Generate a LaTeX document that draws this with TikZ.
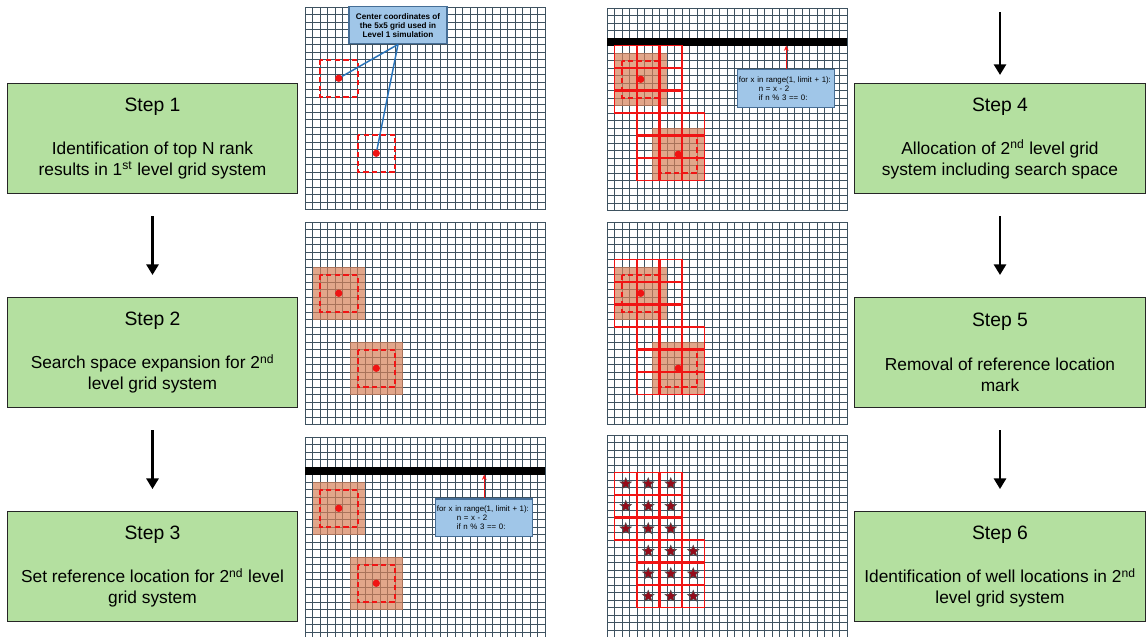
\documentclass[tikz,border=0pt]{standalone}
\usepackage{fontspec}
\setmainfont{Liberation Sans}
\usetikzlibrary{arrows.meta, positioning, shapes.geometric}
\definecolor{stepgreen}{RGB}{180,224,160}
\definecolor{gridslate}{RGB}{62,82,96}
\definecolor{zoneorange}{RGB}{214,128,88}
\definecolor{noteblue}{RGB}{160,198,232}
\definecolor{noteedge}{RGB}{70,110,150}
\definecolor{pointerblue}{RGB}{40,115,185}
\definecolor{markred}{RGB}{240,20,20}
\definecolor{wellred}{RGB}{150,10,25}

\newcommand{\stephead}[1]{{\fontsize{14.5}{15.75}\selectfont #1}\\[17pt]}
\newcommand{\wellblocks}{1/5,4/5,7/5,1/8,4/8,7/8,1/11,4/11,7/11,4/14,7/14,10/14,4/17,7/17,10/17,4/20,7/20,10/20}

\begin{document}
\begin{tikzpicture}[
  x=0.75pt, y=-0.75pt,
  stepbox/.style={rectangle, draw=black!85, line width=0.8pt, fill=stepgreen,
    minimum width=218pt, minimum height=82.5pt, align=center, inner sep=0pt,
    font=\fontsize{13}{15.75}\selectfont},
  flow/.style={-{Triangle[length=8pt,width=9pt]}, line width=2pt,
    shorten <=16.5pt, shorten >=16.5pt},
  panel/.style={x=5.625pt, y=-5.625pt},
  cellgrid/.style={draw=gridslate, line width=0.6pt},
  searchzone/.style={fill=zoneorange, fill opacity=0.7},
  refdash/.style={draw=markred, line width=1.5pt, dash pattern=on 4pt off 2.5pt},
  refdot/.style={circle, fill=markred, minimum size=5.5pt, inner sep=0pt},
  note/.style={rectangle, fill=noteblue, draw=noteedge, line width=0.8pt,
    minimum width=73.5pt, minimum height=27.75pt, inner sep=1pt, align=center,
    font=\fontsize{6.1}{6.75}\selectfont\bfseries},
  pointer/.style={draw=pointerblue, line width=1.1pt},
  codebox/.style={rectangle, fill=noteblue, draw=noteedge, line width=0.8pt,
    text width=71pt, minimum height=28pt, inner xsep=1pt, align=left,
    font=\fontsize{5.9}{6.75}\selectfont},
  codearrow/.style={draw=markred, line width=1pt, -{Stealth[length=4pt,width=3.5pt]}},
  gridblock/.style={draw=markred, line width=1.3pt},
  blockseam/.style={draw=markred, line width=2pt},
  well/.style={star, star points=5, star point ratio=2.3, minimum size=9pt,
    inner sep=0pt, fill=wellred, draw=black!70, line width=0.4pt}
]
\useasboundingbox (0,0) rectangle (1146,636);

% Left column: steps 1-3
\node[stepbox] (step1) at (152.5,138.5)
  {\stephead{Step 1}Identification of top N rank\\results in 1\textsuperscript{st} level grid system};
\node[stepbox, below=77.25pt of step1] (step2)
  {\stephead{Step 2}Search space expansion for 2\textsuperscript{nd}\\level grid system};
\node[stepbox, below=77.25pt of step2] (step3)
  {\stephead{Step 3}Set reference location for 2\textsuperscript{nd} level\\grid system};

\draw[flow] (step1) -- (step2);
\draw[flow] (step2) -- (step3);

% Right column: steps 4-6
\node[stepbox] (step4) at (1000,138.5)
  {\stephead{Step 4}Allocation of 2\textsuperscript{nd} level grid\\system including search space};
\node[stepbox, below=77.25pt of step4] (step5)
  {\stephead{Step 5}Removal of reference location\\mark};
\node[stepbox, below=77.25pt of step5] (step6)
  {\stephead{Step 6}Identification of well locations in 2\textsuperscript{nd}\\level grid system};

\coordinate (enter4) at (1000,12);
\draw[flow, shorten <=0pt, shorten >=6pt] (enter4) -- (step4);
\draw[flow] (step4) -- (step5);
\draw[flow] (step5) -- (step6);

% Grid panels
\foreach \px/\py in {305/7,305/222,305/437,607/8,607/222,607/435}{
  \begin{scope}[shift={(\px,\py)}, panel]
    \foreach \i in {0,...,32} \draw[cellgrid] (\i,0) -- (\i,27);
    \foreach \j in {0,...,27} \draw[cellgrid] (0,\j) -- (32,\j);
  \end{scope}
}

% Panel 1: top N centres
\begin{scope}[shift={(305,7)}, panel]
  \draw[refdash] (2,7) rectangle (7,12);
  \draw[refdash] (7,17) rectangle (12,22);
  \coordinate (top1) at (4.5,9.5);
  \coordinate (top2) at (9.5,19.5);
  \node[note] (centers) at (12.4,2.45)
    {Center coordinates of\\the 5x5 grid used in\\Level 1 simulation};
  \draw[pointer] (centers.south) -- (top1);
  \draw[pointer] (centers.south) -- (top2);
  \node[refdot] (dot1) at (top1) {};
  \node[refdot] (dot2) at (top2) {};
\end{scope}

% Panels 2-5: expanded search space
\foreach \px/\py in {305/222,305/437,607/8,607/222}{
  \begin{scope}[shift={(\px,\py)}, panel]
    \fill[searchzone] (1,6) rectangle (8,13);
    \fill[searchzone] (6,16) rectangle (13,23);
    \draw[refdash] (2,7) rectangle (7,12);
    \draw[refdash] (7,17) rectangle (12,22);
    \node[refdot] (zdot1) at (4.5,9.5) {};
    \node[refdot] (zdot2) at (9.5,19.5) {};
  \end{scope}
}

% Panels 3-4: reference location bar and code
\foreach \px/\py in {305/437,607/8}{
  \begin{scope}[shift={(\px,\py)}, panel]
    \fill[black] (0,4.05) rectangle (32,5);
    \coordinate (barlow) at (0,5);
    \node[codebox] (code) at (23.9,10.75)
      {for x in range(1, limit + 1):\\\hspace*{15pt}n = x - 2\\\hspace*{15pt}if n \% 3 == 0:};
    \draw[codearrow] (code.north) -- (code.north |- barlow);
  \end{scope}
}

% Panels 4-6: 2nd level grid blocks
\foreach \py in {8,222,435}{
  \begin{scope}[shift={(607,\py)}, panel]
    \foreach \bx/\by in \wellblocks \draw[gridblock] (\bx,\by) rectangle ++(3,3);
    \foreach \sx/\sa/\sb in {4/5/14,7/5/23,10/14/23} \draw[blockseam] (\sx,\sa) -- (\sx,\sb);
    \foreach \sy/\sa/\sb in {8/1/10,11/1/10,14/4/10,17/4/13,20/4/13} \draw[blockseam] (\sa,\sy) -- (\sb,\sy);
  \end{scope}
}

% Panel 6: well locations
\begin{scope}[shift={(607,435)}, panel]
  \foreach \bx/\by [count=\k] in \wellblocks \node[well] (well\k) at (\bx+1.5,\by+1.5) {};
\end{scope}
\end{tikzpicture}
\end{document}
